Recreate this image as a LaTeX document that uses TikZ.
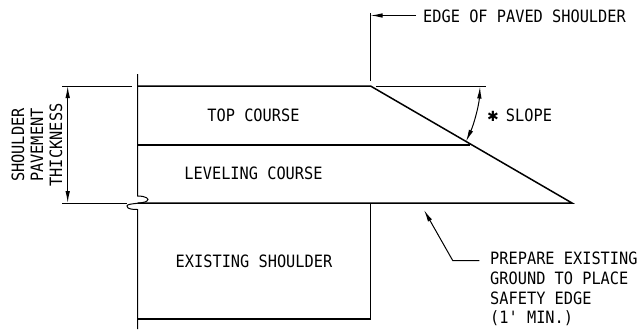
\documentclass[tikz,border=0pt]{standalone}
\usepackage{fontspec}
\setmonofont[FakeStretch=0.9]{DejaVu Sans Mono}
\newfontfamily\symfont{DejaVu Sans}
\usetikzlibrary{arrows.meta}
\tikzset{
  thick line/.style={line width=1.5pt,black},
  thin line/.style={line width=1pt,black},
  tip/.style={-{Latex[length=12pt,width=4.5pt]}},
  both tips/.style={{Latex[length=12pt,width=4.5pt]}-{Latex[length=12pt,width=4.5pt]}},
  label text/.style={font=\ttfamily\fontsize{17}{19.7}\selectfont,inner sep=0pt,text=black},
}
\begin{document}
\begin{tikzpicture}[x=1pt,y=-1pt]
\useasboundingbox (0,0) rectangle (639,329);
% coordinates
\coordinate (tl) at (137.5,86);
\coordinate (tr) at (370.5,86);
\coordinate (ml) at (137.5,145);
\coordinate (mr) at (470,145);
\coordinate (bl) at (137.5,203);
\coordinate (toe) at (572,203);
\coordinate (ex) at (370.7,203);
\coordinate (exb) at (370.7,319);
\coordinate (lb) at (137.5,319);
% pavement outline
\draw[thick line] (tl) -- (tr) -- (toe) -- (bl);
\draw[thick line] (ml) -- (mr);
\draw[thick line] (ex) -- (exb) -- (lb);
% break line
\draw[thin line] (137.5,74) -- (137.5,196)
  .. controls (146,196) and (150,199) .. (147,201)
  .. controls (143,204) and (127,203) .. (127,206)
  .. controls (127,209) and (132,209.5) .. (137.5,209.5) -- (137.5,329);
% dimension
\coordinate (e1a) at (62,86); \coordinate (e1b) at (132,86);
\coordinate (e2a) at (62,203); \coordinate (e2b) at (127,203);
\draw[thin line] (e1a) -- (e1b);
\draw[thin line] (e2a) -- (e2b);
\coordinate (d1) at (67.7,86); \coordinate (d2) at (67.7,203);
\draw[thin line,both tips] (d1) -- (d2);
\node[label text,rotate=90] (t1) at (18,145) {SHOULDER};
\node[label text,rotate=90] (t2) at (37,145) {PAVEMENT};
\node[label text,rotate=90] (t3) at (56,145) {THICKNESS};
% edge of paved shoulder
\coordinate (ev1) at (370.5,13); \coordinate (ev2) at (370.5,81);
\draw[thin line] (ev1) -- (ev2);
\node[label text,anchor=west] (edge) at (423,16.5) {EDGE OF PAVED SHOULDER};
\coordinate (ea) at (416,15.5); \coordinate (eb) at (370.5,15.5);
\draw[thin line,tip] (ea) -- (eb);
% slope
\coordinate (s1) at (376,86); \coordinate (s2) at (486,86);
\draw[thin line] (s1) -- (s2);
\coordinate (a1) at (480,86.5); \coordinate (a2) at (466,141.5);
\draw[thin line,both tips] (a1) .. controls (479,105) and (474,124) .. (a2);
\node[label text,anchor=west] (slope) at (487,115.5) {{\symfont\fontsize{14}{14}\selectfont ✱}\hspace{7pt}SLOPE};
% labels
\node[label text] (top) at (253.5,115.5) {TOP COURSE};
\node[label text] (lev) at (253.5,173.5) {LEVELING COURSE};
\node[label text] (exs) at (254,261) {EXISTING SHOULDER};
% leader
\node[label text,anchor=north west,align=left] (prep) at (490,252) {PREPARE EXISTING\\GROUND TO PLACE\\SAFETY EDGE\\(1' MIN.)};
\coordinate (la) at (479.3,260.5); \coordinate (lm) at (452.7,260.5); \coordinate (lt) at (424,210);
\draw[thin line,tip] (la) -- (lm) -- (lt);
\end{tikzpicture}
\end{document}
